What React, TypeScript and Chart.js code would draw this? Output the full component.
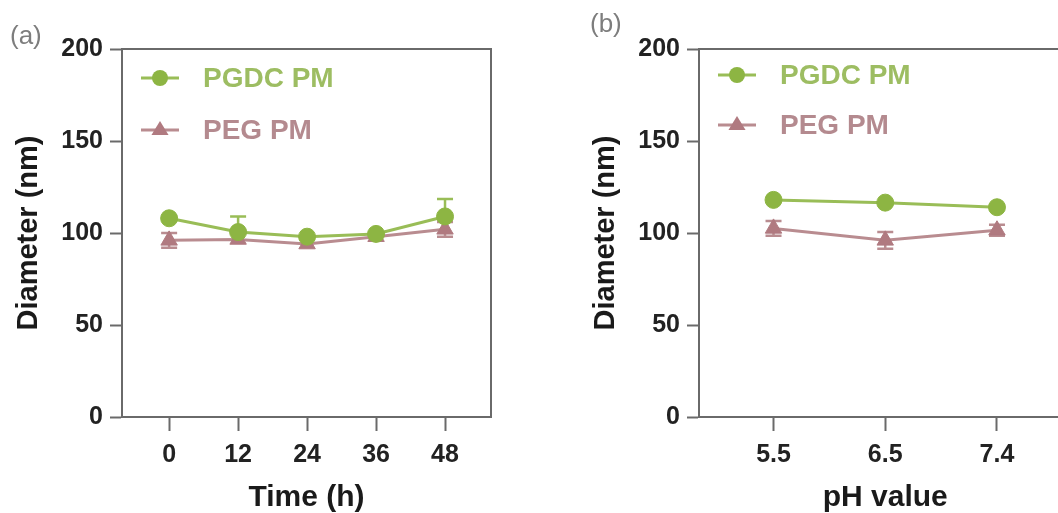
import React, { useEffect, useRef } from "react";
import { Chart, registerables } from "chart.js";

Chart.register(...registerables);

// ---------- data ----------
const TIME_TICKS = [0, 12, 24, 36, 48];
const TIME_PGDC = [108, 100.5, 98, 99.5, 109];
const TIME_PGDC_ERR = [0, 8.5, 0, 0, 9.5];
const TIME_PEG = [96, 96.5, 94, 98, 102];
const TIME_PEG_ERR = [4, 0, 0, 0, 4];

const PH_LABELS = ["5.5", "6.5", "7.4"];
const PH_PGDC = [118, 116.5, 114];
const PH_PGDC_ERR = [0, 0, 0];
const PH_PEG = [102.5, 96, 101.5];
const PH_PEG_ERR = [4, 4.5, 3];

const Y_TICKS = [0, 50, 100, 150, 200];
const SERIES_NAMES = ["PGDC PM", "PEG PM"];

// ---------- style ----------
const FONT = "'Liberation Sans', Arial, sans-serif";
const AXIS = "#6a6a6a";
const GREEN = "#8db543";
const GREEN_LINE = "#99bd57";
const GREEN_TEXT = "#9dbd62";
const ROSE = "#b07a80";
const ROSE_LINE = "#b98c90";
const ROSE_TEXT = "#b48a8f";

const errorBarPlugin = {
  id: "errorBars",
  beforeDatasetsDraw(chart: any) {
    const ctx = chart.ctx;
    const ys = chart.scales.y;
    chart.data.datasets.forEach((ds: any, i: number) => {
      const meta = chart.getDatasetMeta(i);
      ctx.save();
      ctx.strokeStyle = ds.borderColor;
      ctx.lineWidth = 2.5;
      meta.data.forEach((pt: any, j: number) => {
        const e = ds.errors[j];
        if (!e) return;
        const v = ds.data[j].y;
        const top = ys.getPixelForValue(v + e);
        const bot = ds.errorBoth ? ys.getPixelForValue(v - e) : pt.y;
        ctx.beginPath();
        ctx.moveTo(pt.x, top);
        ctx.lineTo(pt.x, bot);
        ctx.moveTo(pt.x - 8, top);
        ctx.lineTo(pt.x + 8, top);
        if (ds.errorBoth) {
          ctx.moveTo(pt.x - 8, bot);
          ctx.lineTo(pt.x + 8, bot);
        }
        ctx.stroke();
      });
      ctx.restore();
    });
  },
};

const framePlugin = {
  id: "frame",
  afterDraw(chart: any) {
    const { ctx, chartArea } = chart;
    ctx.save();
    ctx.strokeStyle = AXIS;
    ctx.lineWidth = 2;
    ctx.beginPath();
    ctx.moveTo(chartArea.left, chartArea.top);
    ctx.lineTo(chartArea.right, chartArea.top);
    ctx.lineTo(chartArea.right, chartArea.bottom);
    ctx.stroke();
    ctx.restore();
  },
};

const legendPlugin = {
  id: "customLegend",
  afterDraw(chart: any, _args: any, opts: any) {
    const { ctx, chartArea } = chart;
    const x1 = chartArea.left + 19;
    const x2 = chartArea.left + 57;
    const tx = chartArea.left + 81;
    const mx = (x1 + x2) / 2;
    chart.data.datasets.forEach((ds: any, i: number) => {
      const y = opts.rows[i];
      ctx.save();
      ctx.strokeStyle = ds.borderColor;
      ctx.lineWidth = 3;
      ctx.beginPath();
      ctx.moveTo(x1, y);
      ctx.lineTo(x2, y);
      ctx.stroke();
      ctx.fillStyle = ds.pointBackgroundColor;
      ctx.beginPath();
      if (ds.pointStyle === "triangle") {
        const r = 9;
        ctx.moveTo(mx, y - r);
        ctx.lineTo(mx + r * 0.95, y + r * 0.55);
        ctx.lineTo(mx - r * 0.95, y + r * 0.55);
        ctx.closePath();
      } else {
        ctx.arc(mx, y, 8, 0, Math.PI * 2);
      }
      ctx.fill();
      ctx.fillStyle = ds.legendColor;
      ctx.font = `bold 28px ${FONT}`;
      ctx.textBaseline = "middle";
      ctx.textAlign = "left";
      ctx.fillText(ds.label, tx, y + 1);
      ctx.restore();
    });
  },
};

function makeDatasets(xs: number[], pgdc: number[], pgdcErr: number[], peg: number[], pegErr: number[]) {
  return [
    {
      label: SERIES_NAMES[0],
      data: xs.map((x, i) => ({ x, y: pgdc[i] })),
      errors: pgdcErr,
      errorBoth: false,
      borderColor: GREEN_LINE,
      backgroundColor: GREEN,
      pointBackgroundColor: GREEN,
      pointBorderColor: GREEN,
      legendColor: GREEN_TEXT,
      borderWidth: 3,
      pointStyle: "circle",
      pointRadius: 8.5,
      pointBorderWidth: 1,
      tension: 0,
    },
    {
      label: SERIES_NAMES[1],
      data: xs.map((x, i) => ({ x, y: peg[i] })),
      errors: pegErr,
      errorBoth: true,
      borderColor: ROSE_LINE,
      backgroundColor: ROSE,
      pointBackgroundColor: ROSE,
      pointBorderColor: ROSE,
      legendColor: ROSE_TEXT,
      borderWidth: 3,
      pointStyle: "triangle",
      pointRadius: 9.5,
      pointBorderWidth: 1,
      tension: 0,
    },
  ];
}

function makeOptions(cfg: {
  xMin: number;
  xMax: number;
  xTicks: number[];
  xLabel: (v: number) => string;
  xTitle: string;
  rows: number[];
  padRight: number;
}) {
  return {
    responsive: false,
    animation: false,
    devicePixelRatio: 1,
    layout: { padding: { top: 49, left: 0, right: cfg.padRight, bottom: 0 } },
    plugins: {
      legend: { display: false },
      tooltip: { enabled: false },
      customLegend: { rows: cfg.rows },
    },
    scales: {
      x: {
        type: "linear",
        min: cfg.xMin,
        max: cfg.xMax,
        afterBuildTicks: (s: any) => {
          s.ticks = cfg.xTicks.map((v) => ({ value: v }));
        },
        afterFit: (s: any) => {
          s.height = 96;
        },
        ticks: {
          callback: (v: any) => cfg.xLabel(Number(v)),
          font: { family: FONT, size: 25, weight: "bold" },
          color: "#222",
          padding: 9,
          maxRotation: 0,
          autoSkip: false,
        },
        grid: {
          display: true,
          drawOnChartArea: false,
          drawTicks: true,
          tickLength: 14,
          tickWidth: 2,
          tickColor: AXIS,
        },
        border: { display: true, color: AXIS, width: 2 },
        title: {
          display: true,
          text: cfg.xTitle,
          font: { family: FONT, size: 30, weight: "bold", lineHeight: 1 },
          color: "#1a1a1a",
          padding: { top: 0, bottom: 0 },
        },
      },
      y: {
        type: "linear",
        min: 0,
        max: 200,
        afterBuildTicks: (s: any) => {
          s.ticks = Y_TICKS.map((v) => ({ value: v }));
        },
        afterFit: (s: any) => {
          s.width = 122;
        },
        ticks: {
          font: { family: FONT, size: 25, weight: "bold" },
          color: "#222",
          padding: 7,
        },
        grid: {
          display: true,
          drawOnChartArea: false,
          drawTicks: true,
          tickLength: 12,
          tickWidth: 2,
          tickColor: AXIS,
        },
        border: { display: true, color: AXIS, width: 2 },
        title: {
          display: true,
          text: "Diameter (nm)",
          font: { family: FONT, size: 29, weight: "bold", lineHeight: 1.2 },
          color: "#1a1a1a",
          padding: { top: 12, bottom: 0 },
        },
      },
    },
  };
}

function Panel(props: { width: number; left: number; build: () => any }) {
  const ref = useRef<HTMLCanvasElement | null>(null);
  useEffect(() => {
    if (!ref.current) return;
    const chart = new Chart(ref.current, props.build());
    return () => chart.destroy();
  }, []);
  return (
    <canvas
      ref={ref}
      width={props.width}
      height={513}
      style={{ position: "absolute", left: props.left, top: 0, width: props.width, height: 513, display: "block" }}
    />
  );
}

export default function App() {
  const buildA = () => ({
    type: "line",
    data: { datasets: makeDatasets(TIME_TICKS, TIME_PGDC, TIME_PGDC_ERR, TIME_PEG, TIME_PEG_ERR) },
    options: makeOptions({
      xMin: -8.2,
      xMax: 56,
      xTicks: TIME_TICKS,
      xLabel: (v) => String(v),
      xTitle: "Time (h)",
      rows: [78, 130],
      padRight: 29,
    }),
    plugins: [errorBarPlugin, framePlugin, legendPlugin],
  });
  const phIdx = PH_LABELS.map((_, i) => i);
  const buildB = () => ({
    type: "line",
    data: { datasets: makeDatasets(phIdx, PH_PGDC, PH_PGDC_ERR, PH_PEG, PH_PEG_ERR) },
    options: makeOptions({
      xMin: -0.667,
      xMax: 2.667,
      xTicks: phIdx,
      xLabel: (v) => PH_LABELS[Math.round(v)] ?? "",
      xTitle: "pH value",
      rows: [75, 125],
      padRight: 0,
    }),
    plugins: [errorBarPlugin, framePlugin, legendPlugin],
  });

  const labelStyle: React.CSSProperties = {
    position: "absolute",
    fontFamily: FONT,
    fontSize: 26,
    color: "#7d7d7d",
    lineHeight: "30px",
    whiteSpace: "nowrap",
  };

  return (
    <div
      style={{
        position: "fixed",
        left: 0,
        top: 0,
        width: 1058,
        height: 513,
        overflow: "hidden",
        background: "#fff",
      }}
    >
      <Panel width={520} left={0} build={buildA} />
      <Panel width={505} left={577} build={buildB} />
      <div style={{ ...labelStyle, left: 10, top: 20 }}>(a)</div>
      <div style={{ ...labelStyle, left: 590, top: 8 }}>(b)</div>
    </div>
  );
}
